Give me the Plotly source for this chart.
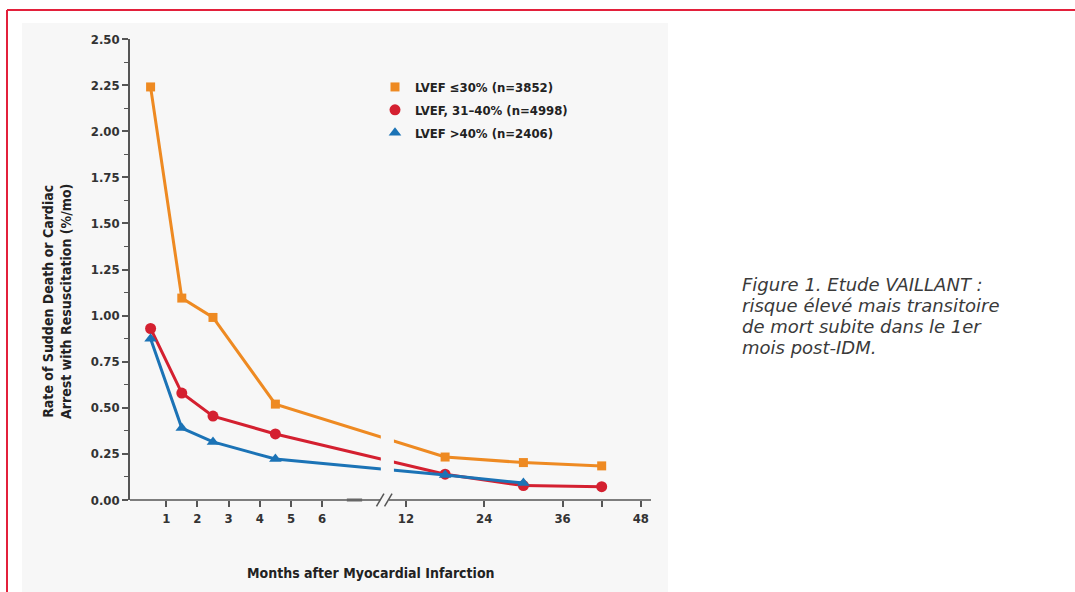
import plotly.graph_objects as go

# ---------------- data ----------------
months_all = [0.5, 1.5, 2.5, 4.5, 18, 30, 42]
lvef_le30 = [2.24, 1.095, 0.99, 0.52, 0.233, 0.203, 0.185]
lvef_31_40 = [0.93, 0.58, 0.455, 0.358, 0.14, 0.078, 0.072]
months_gt40 = [0.5, 1.5, 2.5, 4.5, 18, 30]
lvef_gt40 = [0.875, 0.39, 0.315, 0.222, 0.135, 0.092]

series_names = ["LVEF ≤30% (n=3852)", "LVEF, 31–40% (n=4998)", "LVEF >40% (n=2406)"]
tick_months = [1, 2, 3, 4, 5, 6, 12, 24, 36, 42, 48]
tick_labels = ["1", "2", "3", "4", "5", "6", "12", "24", "36", "", "48"]
y_ticks = [0, 0.25, 0.5, 0.75, 1.0, 1.25, 1.5, 1.75, 2.0, 2.25, 2.5]
y_tick_labels = ["0.00", "0.25", "0.50", "0.75", "1.00", "1.25", "1.50", "1.75", "2.00", "2.25", "2.50"]

caption_lines = ["Figure 1. Etude VAILLANT :", "risque élevé mais transitoire",
                 "de mort subite dans le 1er", "mois post-IDM."]


# broken axis: months 0-8 linear, months >= 12 compressed
def pos(m):
    return m if m <= 8 else 8.686 + (m - 12) * 0.2091


ORANGE = "#ee8a22"
RED = "#d42030"
BLUE = "#1b73b6"
PANEL = "#f7f7f7"
AXIS = "#555555"
FONT = "DejaVu Sans Condensed, Liberation Sans Narrow, sans-serif"

colors = [ORANGE, RED, BLUE]
symbols = ["square", "circle", "triangle-up"]
sizes = [9, 11, 11]
xs = [[pos(m) for m in months_all], [pos(m) for m in months_all], [pos(m) for m in months_gt40]]
ys = [lvef_le30, lvef_31_40, lvef_gt40]

fig = go.Figure()
for i in range(3):
    fig.add_trace(go.Scatter(
        x=xs[i], y=ys[i], name=series_names[i], showlegend=False,
        mode="lines+markers", line=dict(color=colors[i], width=3),
        marker=dict(symbol=symbols[i], size=sizes[i], color=colors[i]), cliponaxis=False))
# legend entries (markers only)
for i in range(3):
    fig.add_trace(go.Scatter(
        x=[None], y=[None], name=series_names[i], mode="markers", legendgroup=f"g{i}",
        marker=dict(symbol=symbols[i], size=sizes[i], color=colors[i])))

# plot area in pixels: x 130..651, y 39..500
L, R, T, B = 130, 651, 39, 500
W, H = R - L, B - T


def px(xp):
    return (xp - L) / W


def py(yp):
    return (B - yp) / H


shapes = [
    # outer red frame (top + left)
    dict(type="line", xref="paper", yref="paper", x0=px(7), x1=px(1080), y0=py(10), y1=py(10),
         line=dict(color="#e3203b", width=2), layer="below"),
    dict(type="line", xref="paper", yref="paper", x0=px(7), x1=px(7), y0=py(10), y1=py(600),
         line=dict(color="#e3203b", width=2), layer="below"),
    # grey panel
    dict(type="rect", xref="paper", yref="paper", x0=px(22), x1=px(668), y0=py(23), y1=py(600),
         fillcolor=PANEL, line=dict(width=0), layer="below"),
    # gap in the lines at the axis break
    dict(type="rect", xref="x", yref="y", x0=7.88, x1=8.30, y0=0.03, y1=0.8,
         fillcolor=PANEL, line=dict(width=0), layer="above"),
    # x axis line, in two segments
    dict(type="line", xref="x", yref="paper", x0=-0.22, x1=7.86, y0=0, y1=0,
         line=dict(color=AXIS, width=1.5)),
    dict(type="line", xref="x", yref="paper", x0=8.14, x1=16.54, y0=0, y1=0,
         line=dict(color=AXIS, width=1.5)),
    # small thick dash on the axis
    dict(type="line", xref="x", yref="paper", x0=6.79, x1=7.28, y0=0, y1=0,
         line=dict(color="#666666", width=3)),
    # break marks //
    dict(type="line", xref="x", yref="paper", x0=7.74, x1=7.98, y0=-0.014, y1=0.014,
         line=dict(color=AXIS, width=1.5)),
    dict(type="line", xref="x", yref="paper", x0=8.00, x1=8.24, y0=-0.014, y1=0.014,
         line=dict(color=AXIS, width=1.5)),
]

annotations = [
    dict(text="Rate of Sudden Death or Cardiac<br>Arrest with Resuscitation (%/mo)",
         xref="paper", yref="paper", x=px(57), y=py(302), textangle=-90,
         showarrow=False, font=dict(family=FONT, size=14, color="#222222", weight="bold"),
         xanchor="center", yanchor="middle"),
    dict(text="Months after Myocardial Infarction",
         xref="paper", yref="paper", x=px(371), y=py(573),
         showarrow=False, font=dict(family=FONT, size=14, color="#222222", weight="bold"),
         xanchor="center", yanchor="middle"),
]
for k, line_text in enumerate(caption_lines):
    annotations.append(dict(
        text=line_text, xref="paper", yref="paper", x=px(740), y=py(284 + 21.3 * k),
        xanchor="left", yanchor="middle", align="left", showarrow=False,
        font=dict(family="DejaVu Sans, Open Sans, sans-serif", size=18, color="#3a3a3a",
                  style="italic", weight=300)))

fig.update_layout(
    width=1075, height=592,
    margin=dict(l=L, r=1075 - R, t=T, b=592 - B, pad=0),
    paper_bgcolor="white", plot_bgcolor=PANEL,
    font=dict(family=FONT, color="#333333"),
    showlegend=True,
    legend=dict(x=px(375), y=py(72), xanchor="left", yanchor="top",
                bgcolor="rgba(0,0,0,0)", font=dict(family=FONT, size=13, color="#222222", weight="bold"),
                itemwidth=30, tracegroupgap=3),
    shapes=shapes, annotations=annotations,
    xaxis=dict(range=[-0.16, 16.54], showline=False, showgrid=False, zeroline=False,
               tickmode="array", tickvals=[pos(m) for m in tick_months], ticktext=tick_labels,
               ticks="outside", ticklen=6, tickwidth=1.5, tickcolor=AXIS,
               tickfont=dict(family=FONT, size=13, color="#333333", weight="bold")),
    yaxis=dict(range=[0, 2.5], showline=True, linecolor=AXIS, linewidth=1.5,
               showgrid=False, zeroline=False,
               tickmode="array", tickvals=y_ticks, ticktext=y_tick_labels,
               ticks="outside", ticklen=6, tickwidth=1.5, tickcolor=AXIS,
               minor=dict(tickmode="linear", dtick=0.125, tick0=0, ticks="outside",
                          ticklen=4, tickwidth=1.2, tickcolor=AXIS),
               tickfont=dict(family=FONT, size=13, color="#333333", weight="bold")),
)

fig.write_html("out.html", config={"displayModeBar": False},
               post_script="document.body.style.margin='0';")
